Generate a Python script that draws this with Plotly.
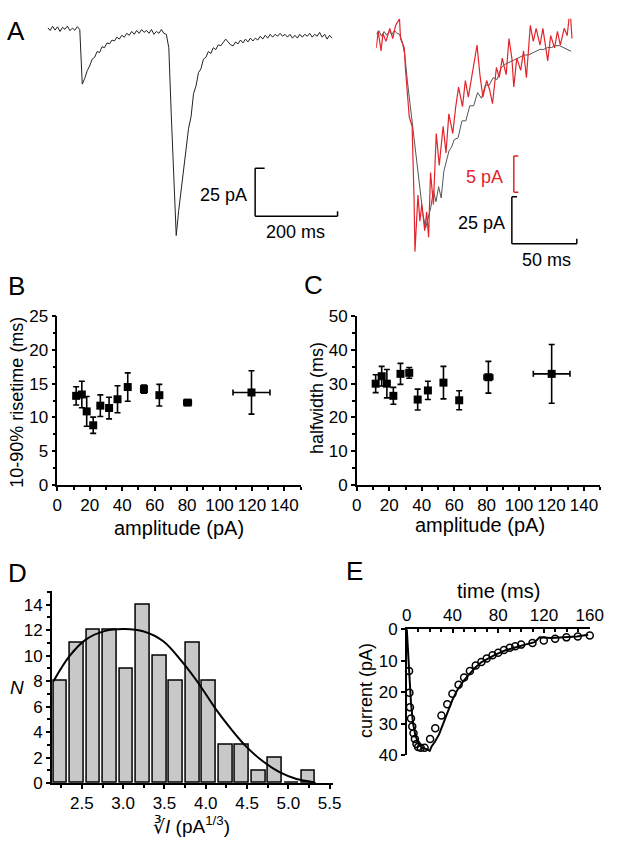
import numpy as np
import plotly.graph_objects as go

W, H = 619, 853
FONT = "Liberation Sans, Arial, sans-serif"

# --- panel A, left: average trace (pA), sampled every 6 ms
LEFT_TRACE_PA = [
    0.5, -1.0, 1.2, -0.8, 0.9, -1.5, 0.6, -0.4, 1.3, -1.1,
    0.2, -0.9, 1.0, -0.6, -29, -26, -22, -19.5, -16, -15,
    -12, -12.5, -9.5, -10, -7.5, -8, -6, -6.5, -4.5, -5.5,
    -3.5, -4.5, -2.5, -3.5, -1.5, -3, -1, -2.5, -0.5, -2,
    -1, -2.5, -0.5, -3, -1.5, -2.5, -0.5, -2.5, -3, -10,
    -45, -80, -108, -95, -85, -72, -62, -52, -46, -34,
    -30, -23, -21, -16, -15, -12, -13, -10, -11, -8.5,
    -9, -7, -5.5, -7, -8.5, -9, -7, -8, -6, -7.5,
    -5.5, -7, -5, -6.5, -5, -6, -4, -5.5, -3.5, -5,
    -3, -4.5, -3, -4, -2.5, -4, -3, -4.5, -3, -5,
    -3.5, -5, -3, -4.5, -3, -4, -2.5, -4.5, -3, -4,
    -2, -4.5, -3, -5.5, -3.5, -5,
]
LEFT_STEP_MS = 6

# --- panel A, right: black (25 pA scale) and red (5 pA scale) traces
RIGHT_BLACK_T = [0, 2, 4, 6, 8, 10, 12, 14, 16, 18, 20, 22, 24, 26, 28, 30, 32, 34, 36, 38,
                 40, 42, 44, 46, 48, 50, 52, 54, 56, 58, 60, 63, 66, 69, 72, 75, 78, 81, 84, 87,
                 90, 93, 96, 99, 102, 105, 108, 111, 114, 117, 120, 123, 126, 129, 132, 135,
                 138, 141, 144, 147, 150]
RIGHT_BLACK_PA = [-1, 1, -2, 0.5, -1.5, 0.5, -1, 1, -0.5, -1, -5, -12, -26, -38, -50, -64, -76, -88,
                  -97, -104, -98, -93, -84, -90, -82, -88, -74, -69, -63, -61, -57, -56, -47, -47,
                  -39, -39, -32, -35, -28, -28, -24, -25, -19, -17, -16, -15, -14, -13, -12, -12,
                  -11, -10, -9, -9, -8, -8, -7, -7, -8, -9, -10]
RIGHT_RED_T = [0, 1.5, 3.7, 5.2, 7.5, 10.4, 12.7, 14.9, 17.9, 18.7, 21.6, 22.4, 25.4, 27.6, 29.1,
               29.8, 32.1, 33.6, 35.1, 37.3, 38.8, 40.3, 41.8, 44.0, 46.2, 48.5, 51.5, 53.7, 55.9,
               58.9, 61.2, 63.4, 66.4, 68.6, 70.9, 73.9, 77.6, 79.8, 82.1, 85.0, 87.3, 89.5, 92.5,
               94.7, 97.0, 100.0, 102.2, 104.4, 105.9, 108.2, 111.2, 113.4, 115.6, 118.6, 120.9,
               123.1, 126.1, 128.3, 132.0, 134.3, 137.3, 139.5, 141.7, 144.7, 147.0, 149.2, 150.7]
RIGHT_RED_PA = [-2.4, -0.1, -2.8, -0.4, -1.5, 0.3, -1.1, 0.7, 1.6, -1.1, -2.4, -5.1, -11.9, -13.2,
                -23.1, -30.5, -22.7, -26.3, -24.0, -27.6, -25.0, -28.5, -19.6, -24.0, -14.2, -18.6,
                -13.2, -16.9, -11.5, -14.2, -10.5, -7.8, -10.5, -6.9, -9.2, -6.1, -2.0, -6.1, -9.2,
                -6.9, -8.2, -10.1, -5.1, -6.5, -3.8, -6.1, -1.1, -3.8, -7.8, -3.8, -5.5, -2.8, -6.5,
                0.7, -1.5, 0.3, -2.0, 0.3, -4.2, -0.7, -2.4, -0.1, -2.0, 0.3, -0.7, 3.0, -1.1]

# --- panel B / C
AMP = [11.6, 15.1, 18.1, 22.1, 26.5, 31.9, 37.1, 43.4, 53.4, 62.9, 80.3, 119.7]
AMP_ERR = [0, 0, 0, 0, 0, 0, 0, 0, 1.5, 0, 2.3, 11.4]
RISETIME = [13.2, 13.4, 10.9, 8.85, 11.75, 11.4, 12.7, 14.5, 14.2, 13.3, 12.2, 13.7]
RISETIME_ERR = [1.35, 1.95, 2.2, 1.2, 1.6, 1.6, 2.0, 2.1, 0.6, 1.6, 0.4, 3.2]
AMP_C = [11.6, 15.3, 18.5, 22.5, 26.9, 32.3, 37.5, 43.8, 53.4, 63.1, 81.1, 120.1]
AMP_C_ERR = [0, 0, 0, 0, 0, 0, 0, 0, 0, 0, 2.7, 11.3]
HALFWIDTH = [30.0, 32.2, 30.0, 26.4, 32.9, 33.2, 25.3, 28.0, 30.3, 25.1, 31.9, 32.9]
HALFWIDTH_ERR = [2.65, 2.9, 4.2, 2.5, 3.1, 1.6, 3.1, 2.7, 4.8, 2.8, 4.7, 8.7]

# --- panel D
D_BINS = [2.24, 2.44, 2.64, 2.84, 3.04, 3.24, 3.44, 3.64, 3.84, 4.04, 4.24, 4.44, 4.64, 4.84, 5.04, 5.24]
D_COUNTS = [8, 11, 12, 12, 9, 14, 10, 8, 11, 8, 3, 3, 1, 2, 0, 1]
D_FIT_X = [2.156, 2.352, 2.547, 2.782, 3.016, 3.251, 3.486, 3.72, 3.916, 4.113, 4.31, 4.5, 4.7,
           4.894, 5.09, 5.286, 5.33]
D_FIT_N = [8.0, 9.98, 11.26, 11.95, 12.1, 11.9, 11.13, 9.47, 7.8, 5.89, 4.22, 2.8, 1.67, 0.85,
           0.34, 0.08, 0.0]

# --- panel E
E_OBS_T = [2.0, 2.3, 2.8, 3.7, 4.8, 5.9, 7.1, 8.5, 9.9, 12.2, 15.6, 20.4, 24.9, 30.3, 35.4, 39.9,
           45.3, 50.1, 55.2, 60.3, 65.2, 69.9, 75.0, 79.9, 85.0, 90.1, 94.9, 100.0, 109.9, 119.8,
           129.7, 139.6, 149.5, 160.0]
E_OBS_PA = [13.3, 20.2, 24.8, 28.3, 30.9, 33.0, 34.8, 36.4, 37.4, 37.6, 37.6, 34.8, 31.4, 27.4,
            23.8, 20.5, 17.6, 15.3, 13.3, 11.5, 10.4, 9.3, 8.3, 7.5, 6.6, 5.9, 5.4, 4.9, 4.4, 3.6,
            3.0, 2.6, 2.3, 2.0]
E_SIM_T = [0, 1.1, 2.3, 3.7, 5.4, 7.6, 10.5, 14.2, 17.8, 20.1, 21.8, 24.6, 28.3, 32.0, 36.0, 39.9,
           43.9, 49.0, 54.1, 59.5, 65.1, 70.8, 77.9, 86.4, 94.9, 103.4, 111.9, 116.1, 126.0, 137.4,
           148.7, 158.6]
E_SIM_PA = [0, 8.0, 16.2, 23.5, 29.7, 33.8, 36.4, 37.7, 38.1, 38.6, 37.1, 35.7, 33.3, 29.7, 26.0,
            22.4, 19.5, 16.7, 14.5, 12.3, 10.5, 9.3, 8.0, 6.7, 5.7, 4.9, 4.1, 2.6, 2.8, 2.6, 2.3, 1.8]

# scale bars
SCALE_A_MS, SCALE_A_PA = 200, 25
SCALE_A2_MS, SCALE_A2_PA, SCALE_A2_RED_PA = 50, 25, 5


def X(p):
    return p / W


def Y(p):
    return 1 - p / H


fig = go.Figure()

t_left = np.arange(len(LEFT_TRACE_PA)) * LEFT_STEP_MS
fig.add_trace(go.Scatter(x=t_left, y=LEFT_TRACE_PA, mode="lines",
                         line=dict(color="#222222", width=1), xaxis="x", yaxis="y"))
fig.add_trace(go.Scatter(x=RIGHT_BLACK_T, y=RIGHT_BLACK_PA, mode="lines",
                         line=dict(color="#555555", width=1), xaxis="x2", yaxis="y2"))
fig.add_trace(go.Scatter(x=RIGHT_RED_T, y=RIGHT_RED_PA, mode="lines",
                         line=dict(color="#e3242b", width=1.2), xaxis="x2", yaxis="y3"))

err = dict(type="data", color="black", thickness=1.6, width=3)
fig.add_trace(go.Scatter(x=AMP, y=RISETIME, mode="markers", cliponaxis=False,
                         marker=dict(symbol="square", size=8, color="black"),
                         error_y=dict(err, array=RISETIME_ERR), error_x=dict(err, array=AMP_ERR),
                         xaxis="x4", yaxis="y4"))
fig.add_trace(go.Scatter(x=AMP_C, y=HALFWIDTH, mode="markers", cliponaxis=False,
                         marker=dict(symbol="square", size=8, color="black"),
                         error_y=dict(err, array=HALFWIDTH_ERR), error_x=dict(err, array=AMP_C_ERR),
                         xaxis="x5", yaxis="y5"))

fig.add_trace(go.Bar(x=D_BINS, y=D_COUNTS, width=0.165,
                     marker=dict(color="#c8c8c8", line=dict(color="black", width=1.5)),
                     xaxis="x6", yaxis="y6"))
fig.add_trace(go.Scatter(x=D_FIT_X, y=D_FIT_N, mode="lines",
                         line=dict(color="black", width=2, shape="spline"), xaxis="x6", yaxis="y6"))

fig.add_trace(go.Scatter(x=E_SIM_T, y=E_SIM_PA, mode="lines", cliponaxis=False,
                         line=dict(color="black", width=2), xaxis="x7", yaxis="y7"))
fig.add_trace(go.Scatter(x=E_OBS_T, y=E_OBS_PA, mode="markers", cliponaxis=False,
                         marker=dict(symbol="circle-open", size=7, color="black", line=dict(width=1.5)),
                         xaxis="x7", yaxis="y7"))

hidden = dict(visible=False, fixedrange=True)
tick = dict(showline=True, linecolor="black", linewidth=1.5, ticks="outside", ticklen=4,
            tickwidth=1.5, tickcolor="black", showgrid=False, zeroline=False,
            tickfont=dict(family=FONT, size=17, color="black"))
minor = dict(ticks="outside", ticklen=3, tickwidth=1.5, tickcolor="black", showgrid=False)

fig.update_layout(
    width=W, height=H, margin=dict(l=0, r=0, t=0, b=0), autosize=False,
    plot_bgcolor="white", paper_bgcolor="white", showlegend=False,
    font=dict(family=FONT, color="black"),
    xaxis=dict(hidden, domain=[X(44), X(345)], range=[0, 708], anchor="y"),
    yaxis=dict(hidden, domain=[Y(245), Y(10)], range=[-114.8, 5.1], anchor="x"),
    xaxis2=dict(hidden, domain=[X(383), X(595)], range=[0, 158.2], anchor="y2"),
    yaxis2=dict(hidden, domain=[Y(260), Y(10)], range=[-122.7, 7.28], anchor="x2"),
    yaxis3=dict(hidden, overlaying="y2", range=[-32.1, 1.62], anchor="x2"),
    xaxis4=dict(tick, domain=[X(54), X(305)], range=[0, 150], dtick=20, anchor="y4",
                minor=dict(minor, dtick=10)),
    yaxis4=dict(tick, domain=[Y(487), Y(314)], range=[0, 25], dtick=5, anchor="x4",
                minor=dict(minor, dtick=2.5)),
    xaxis5=dict(tick, domain=[X(363), X(614)], range=[0, 150], dtick=20, anchor="y5",
                minor=dict(minor, dtick=10)),
    yaxis5=dict(tick, domain=[Y(487), Y(314)], range=[0, 50], dtick=10, anchor="x5",
                minor=dict(minor, dtick=5)),
    xaxis6=dict(tick, domain=[X(48.3), X(338.3)], range=[2.136, 5.54], tick0=2.5, dtick=0.5,
                tickformat=".1f", anchor="y6", minor=dict(minor, dtick=0.25)),
    yaxis6=dict(tick, domain=[Y(791.7), Y(595)], range=[0, 15.1], dtick=2, anchor="x6",
                minor=dict(minor, dtick=1)),
    xaxis7=dict(tick, domain=[X(414.5), X(603.3)], range=[0, 160], dtick=40, side="top",
                ticks="inside", anchor="y7", minor=dict(minor, dtick=10, ticks="inside")),
    yaxis7=dict(tick, domain=[Y(763.3), Y(634.3)], range=[40, 0], dtick=10, anchor="x7"),
    bargap=0,
)


def bar(xref, yref, x0, y0, x1, y1, color="black"):
    fig.add_shape(type="line", xref=xref, yref=yref, x0=x0, y0=y0, x1=x1, y1=y1,
                  line=dict(color=color, width=1.5))


# scale bar, panel A left
cx, cy = 503.5, -97.9
bar("x", "y", cx, cy, cx, cy + SCALE_A_PA)
bar("x", "y", cx, cy, cx + SCALE_A_MS, cy)
bar("x", "y", cx, cy + SCALE_A_PA, cx + 23, cy + SCALE_A_PA)
bar("x", "y", cx + SCALE_A_MS, cy, cx + SCALE_A_MS, cy + 2.5)
# scale bars, panel A right
cx, cy = 104.4, -112.3
bar("x2", "y2", cx, cy, cx, cy + SCALE_A2_PA)
bar("x2", "y2", cx, cy, cx + SCALE_A2_MS, cy)
bar("x2", "y2", cx, cy + SCALE_A2_PA, cx + 4, cy + SCALE_A2_PA)
bar("x2", "y2", cx + SCALE_A2_MS, cy, cx + SCALE_A2_MS, cy + 2.6)
rx, ry = 105.9, -22.3
red = "#e3242b"
bar("x2", "y3", rx, ry, rx, ry + SCALE_A2_RED_PA, red)
bar("x2", "y3", rx, ry, rx + 3.5, ry, red)
bar("x2", "y3", rx, ry + SCALE_A2_RED_PA, rx + 3.5, ry + SCALE_A2_RED_PA, red)


def label(text, x, y, size=18, color="black", angle=0):
    fig.add_annotation(text=text, x=X(x), y=Y(y), xref="paper", yref="paper", showarrow=False,
                       xanchor="center", yanchor="middle", textangle=angle,
                       font=dict(family=FONT, size=size, color=color))


for letter, lx, ly in [("A", 11, 23), ("B", 12, 283), ("C", 318, 282), ("D", 13, 577), ("E", 361, 575)]:
    label(letter, lx, ly, size=26)

label("25 pA", 225, 190)
label("200 ms", 300, 228)
label("5 pA", 495, 172, color=red)
label("25 pA", 492, 219)
label("50 ms", 559, 257)
label("10-90% risetime (ms)", 12, 402, angle=-90)
label("amplitude (pA)", 180, 531, size=20)
label("halfwidth (ms)", 321.7, 398, angle=-90)
label("amplitude (pA)", 490, 528, size=20)
label("<i>N</i>", 12, 694, size=19)
label("∛<i>I</i> (pA<sup>1/3</sup>)", 192, 835, size=19)
label("time (ms)", 509, 595, size=20)
label("current (pA)", 373, 697, angle=-90)

# drop the default page margin so the figure sits at the window's corner
fig.write_html("out.html", config={"displayModeBar": False},
               post_script="document.body.style.margin='0';document.body.style.overflow='hidden';")
